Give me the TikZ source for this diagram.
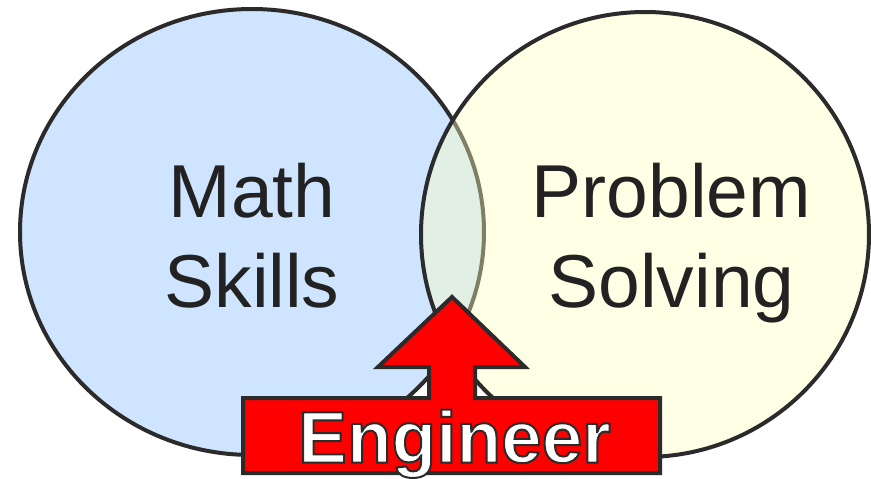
\documentclass[tikz,border=0pt]{standalone}
\usepackage{fontspec}
\setmainfont{Liberation Sans}
\usetikzlibrary{shapes.geometric}
\definecolor{mathblue}{HTML}{CFE5FF}
\definecolor{probyellow}{HTML}{FFFFC0}
\definecolor{edgegray}{HTML}{2B2B2B}
\definecolor{textgray}{HTML}{222222}
\definecolor{engred}{HTML}{FF0000}
% white letters with a dark rim (pdf text render mode 2)
\newcommand{\rimtext}[1]{\special{pdf:literal direct 2 Tr 2 w 0.169 0.169 0.169 RG}#1\special{pdf:literal direct 0 Tr}}

\begin{document}
\begin{tikzpicture}[
    x=1pt, y=-1pt,
    vennset/.style={ellipse, draw=edgegray, line width=4pt, inner sep=0pt},
    setlabel/.style={font=\fontsize{75}{90}\selectfont, text=textgray,
                     align=center, inner sep=0pt, anchor=north},
    banner/.style={draw=edgegray, fill=engred, line width=4pt, line join=miter}
]
\useasboundingbox (0,0) rectangle (871,479);

% Math skills set
\node[vennset, fill=mathblue, minimum width=464pt, minimum height=446pt] at (252,232) (mathset) {};

% Problem solving set (see-through fill)
\node[vennset, fill=probyellow, fill opacity=0.4, draw opacity=1,
      minimum width=448pt, minimum height=445pt] at (645,234.5) (probset) {};

% Set labels
\node[setlabel] at (252,163.3) (mathlabel) {Math\\Skills};
\node[setlabel] at (671.5,163.3) (problabel) {Problem\\Solving};

% Engineer arrow
\draw[banner] (452,297) -- (525,367) -- (475,367) -- (475,398) -- (660,398)
    -- (660,473) -- (243,473) -- (243,398) -- (429,398) -- (429,367)
    -- (378,367) -- cycle;
\node[font=\fontsize{73}{73}\bfseries\selectfont, text=white, anchor=base,
      inner sep=0pt] at (454.5,462.5) (engineer) {\rimtext{Engineer}};

\end{tikzpicture}
\end{document}
